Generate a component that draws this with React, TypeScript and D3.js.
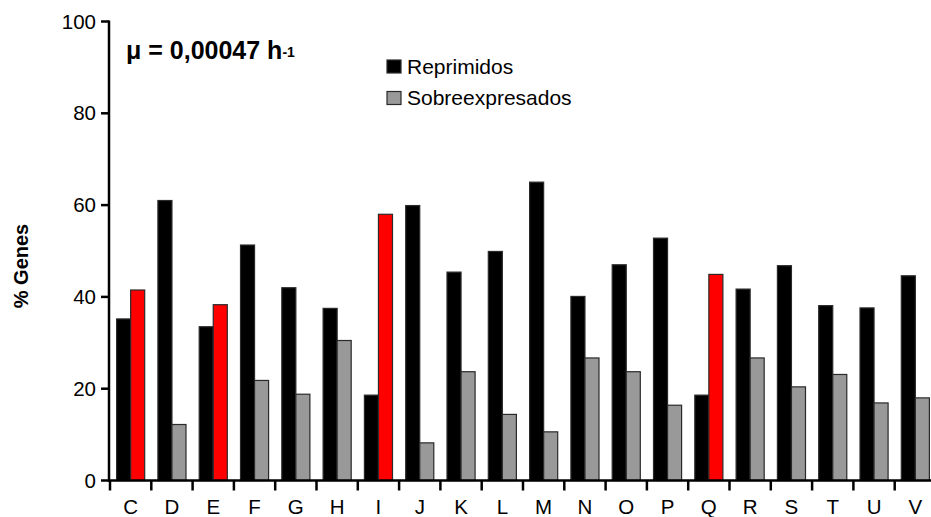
import React from "react";
import * as d3 from "d3";

const categories = ["C", "D", "E", "F", "G", "H", "I", "J", "K", "L", "M", "N", "O", "P", "Q", "R", "S", "T", "U", "V"];
const reprimidos = [35.2, 61.0, 33.5, 51.3, 42.0, 37.5, 18.6, 59.9, 45.4, 49.9, 65.0, 40.1, 47.0, 52.8, 18.6, 41.7, 46.8, 38.1, 37.6, 44.6];
const sobreexpresados = [41.5, 12.2, 38.3, 21.8, 18.8, 30.5, 58.0, 8.2, 23.7, 14.4, 10.6, 26.7, 23.7, 16.4, 44.9, 26.7, 20.4, 23.1, 16.9, 18.0];
const highlighted = ["C", "E", "I", "Q"];
const yTicks = [0, 20, 40, 60, 80, 100];
const seriesNames = ["Reprimidos", "Sobreexpresados"];

const W = 931;
const H = 517;
const FONT = "'Liberation Sans', Arial, sans-serif";

export default function App() {
  const x = d3.scaleBand<string>().domain(categories).range([110, 936]).paddingInner(0.32).paddingOuter(0.16);
  const sub = d3.scaleBand<string>().domain(seriesNames).range([0, x.bandwidth()]);
  const y = d3.scaleLinear().domain([0, 100]).range([480.5, 21.5]);
  const step = x.step();
  const boundaries = categories.map((c) => (x(c) as number) - x.paddingOuter() * step);

  const colorRep = "#000000";
  const colorSob = "#999999";
  const colorHi = "#ff0000";

  return (
    <svg width={W} height={H} style={{ position: "absolute", left: 0, top: 0, background: "#fff" }}>
      <rect width={W} height={H} fill="#fff" />
      {/* bars */}
      {categories.map((c, i) => {
        const x0 = x(c) as number;
        const vals = [reprimidos[i], sobreexpresados[i]];
        return (
          <g key={c}>
            {vals.map((v, j) => {
              const fill = j === 0 ? colorRep : highlighted.includes(c) ? colorHi : colorSob;
              return (
                <rect
                  key={j}
                  x={x0 + (sub(seriesNames[j]) as number)}
                  y={y(v)}
                  width={sub.bandwidth()}
                  height={y(0) - y(v)}
                  fill={fill}
                  stroke="#2a2a2a"
                  strokeWidth={1.2}
                />
              );
            })}
          </g>
        );
      })}

      {/* y axis */}
      <line x1={109} x2={109} y1={y(100) - 1} y2={y(0) + 1} stroke="#000" strokeWidth={2.5} />
      {yTicks.map((t) => (
        <g key={t}>
          <line x1={101} x2={109} y1={y(t)} y2={y(t)} stroke="#000" strokeWidth={2.5} />
          <text x={96} y={y(t) + 7} textAnchor="end" fontFamily={FONT} fontSize={20.5} fill="#000">
            {t}
          </text>
        </g>
      ))}

      {/* x axis */}
      <line x1={108} x2={W} y1={y(0)} y2={y(0)} stroke="#000" strokeWidth={2.5} />
      {boundaries.map((b, i) => (
        <line key={i} x1={b} x2={b} y1={y(0)} y2={y(0) + 10} stroke="#000" strokeWidth={2.5} />
      ))}
      {categories.map((c) => (
        <text
          key={c}
          x={(x(c) as number) + x.bandwidth() / 2}
          y={514}
          textAnchor="middle"
          fontFamily={FONT}
          fontSize={20.5}
          fill="#000"
        >
          {c}
        </text>
      ))}

      {/* y axis title */}
      <text
        transform={`translate(28,266) rotate(-90)`}
        textAnchor="middle"
        fontFamily={FONT}
        fontSize={20}
        fontWeight="bold"
        fill="#000"
      >
        % Genes
      </text>

      {/* growth rate annotation */}
      <text x={126} y={58.5} fontFamily={FONT} fontSize={25} fontWeight="bold" fill="#000">
        μ = 0,00047 h
        <tspan fontSize={14} dy={-2}>-1</tspan>
      </text>

      {/* legend */}
      <rect x={387} y={60} width={14} height={13} fill={colorRep} stroke="#2a2a2a" strokeWidth={1.2} />
      <text x={407} y={73.5} fontFamily={FONT} fontSize={21} fill="#000">
        {seriesNames[0]}
      </text>
      <rect x={387} y={91.5} width={14} height={13} fill={colorSob} stroke="#2a2a2a" strokeWidth={1.2} />
      <text x={407} y={105} fontFamily={FONT} fontSize={21} fill="#000">
        {seriesNames[1]}
      </text>
    </svg>
  );
}
